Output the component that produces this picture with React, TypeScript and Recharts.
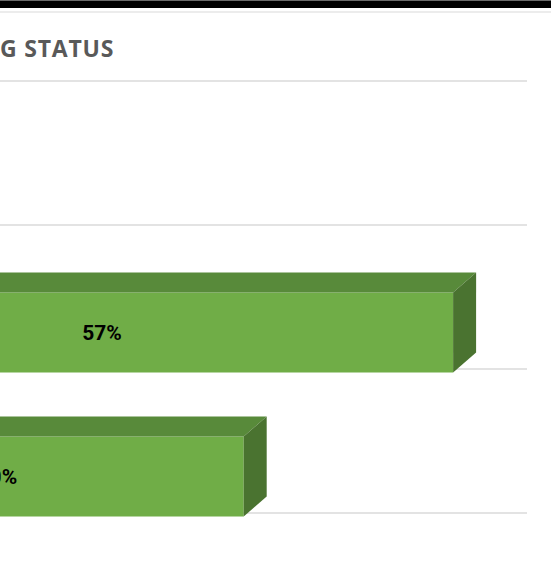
import React from "react";
import { BarChart, Bar, XAxis, YAxis, CartesianGrid, LabelList } from "recharts";

// ---- data ----
const categories = ["Category 1", "Category 2", "Category 3"];
const percentValues = [0, 57, 40];
const titleText = "G STATUS";

const data = categories.map((name, i) => ({ name, value: percentValues[i] }));

// ---- layout / style constants ----
const SHIFT_X = 300; // chart svg is shifted left so only the right part is visible
const DEPTH_X = 23;
const DEPTH_Y = 20;
const GRID_SHIFT = 35.5;
const FRONT = "#70AD47";
const TOP = "#588A3A";
const SIDE = "#4A7330";

const Bar3D = (props: any) => {
  const { x, y, width, height } = props;
  if (x == null || y == null || height == null) return null;
  const w = Math.max(0, width || 0);
  const topFace = `${x},${y} ${x + DEPTH_X},${y - DEPTH_Y} ${x + w + DEPTH_X},${y - DEPTH_Y} ${x + w},${y}`;
  const sideFace = `${x + w},${y} ${x + w + DEPTH_X},${y - DEPTH_Y} ${x + w + DEPTH_X},${y + height - DEPTH_Y} ${x + w},${y + height}`;
  return (
    <g>
      <rect x={x} y={y} width={w} height={height} fill={FRONT} />
      <polygon points={topFace} fill={TOP} />
      <polygon points={sideFace} fill={SIDE} />
    </g>
  );
};

const gridGen = ({ offset }: any) => {
  const n = categories.length;
  const step = offset.height / n;
  const arr: number[] = [];
  for (let i = 0; i <= n; i++) arr.push(offset.top - GRID_SHIFT + i * step);
  return arr;
};

export default function App() {
  return (
    <div
      style={{
        position: "absolute",
        left: 0,
        top: 0,
        width: 551,
        height: 577,
        overflow: "hidden",
        background: "#ffffff",
      }}
    >
      <div
        style={{
          position: "absolute",
          left: 0,
          top: 0,
          width: 551,
          height: 8,
          background: "#000",
          borderTop: "1px solid #6b6b6b",
          boxSizing: "border-box",
        }}
      />
      <div
        style={{
          position: "absolute",
          left: 0,
          top: 11,
          width: 551,
          height: 2,
          background: "#ececec",
        }}
      />
      <div style={{ position: "absolute", left: -SHIFT_X, top: 0 }}>
        <BarChart
          width={851}
          height={577}
          data={data}
          layout="vertical"
          margin={{ top: 116.5, right: 24, bottom: 28.5, left: 51 }}
          barSize={80}
        >
          <CartesianGrid
            horizontal={true}
            vertical={false}
            stroke="#E3E3E3"
            strokeWidth={2}
            horizontalCoordinatesGenerator={gridGen}
          />
          <XAxis type="number" domain={[0, 63]} hide />
          <YAxis type="category" dataKey="name" hide />
          <Bar dataKey="value" shape={<Bar3D />} isAnimationActive={false}>
            <LabelList
              dataKey="value"
              position="center"
              formatter={(v: any) => (v ? `${v}%` : "")}
              fill="#000"
              style={{ fontFamily: "Roboto", fontWeight: 700, fontSize: 21 }}
            />
          </Bar>
        </BarChart>
      </div>
      <svg
        width={551}
        height={80}
        style={{ position: "absolute", left: 0, top: 0 }}
      >
        <text
          x={0}
          y={57}
          fill="#595959"
          fontFamily="Open Sans"
          fontWeight={700}
          fontSize={23}
          letterSpacing={0.8}
        >
          {titleText}
        </text>
      </svg>
    </div>
  );
}
